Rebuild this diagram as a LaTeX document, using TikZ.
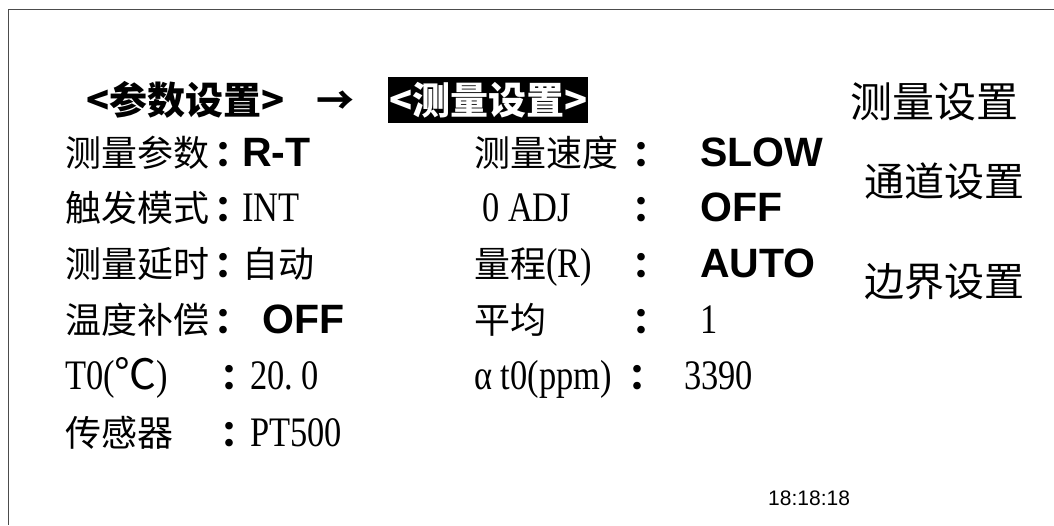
\documentclass[tikz,border=0pt]{standalone}
\usepackage{fontspec}
\newfontfamily\cjk{Noto Sans CJK SC}
\newfontfamily\lsans{Liberation Sans}
\newfontfamily\lserif[FakeStretch=0.82]{Liberation Serif}
\begin{document}
\begin{tikzpicture}[x=1pt,y=-1pt,
  every node/.style={inner sep=0pt,anchor=base west},
  cj/.style={font=\cjk\fontsize{36}{40}\selectfont},
  rc/.style={font=\cjk\fontsize{40}{44}\selectfont},
  hd/.style={font=\cjk\bfseries\fontsize{38}{40}\selectfont},
  bs/.style={font=\lsans\bfseries\fontsize{41}{44}\selectfont},
  sf/.style={font=\lserif\fontsize{42}{44}\selectfont},
  col/.style={font=\cjk\bfseries\fontsize{36}{40}\selectfont,anchor=base},
  frame/.style={draw=black!70,line width=1.5pt}]
\useasboundingbox (0,0) rectangle (1054,525);
\coordinate (tl) at (8.5,9.5);
\coordinate (tr) at (1054,9.5);
\coordinate (bl) at (8.5,525);
\draw[frame] (tr) -- (tl) -- (bl);
% header
\node[hd] (h1) at (86,114) {<参数设置>};
\node[hd] (arr) at (316,114) {→};
\node[fill=black,minimum width=200pt,minimum height=46pt,anchor=west,inner sep=0pt] (hbox) at (388,100) {};
\node[hd,text=white,anchor=base] (h2) at (hbox.center |- 0,114) {<测量设置>};
\node[font=\cjk\fontsize{42}{44}\selectfont] (m1) at (850,117) {测量设置};
\node[rc] (m2) at (864,196) {通道设置};
\node[rc] (m3) at (864,296) {边界设置};
% left column
\node[cj] (a1) at (65,166) {测量参数};
\node[col] (a1c) at (232,166) {：};
\node[bs] (a1v) at (242,166) {R-T};
\node[cj] (a2) at (65,221) {触发模式};
\node[col] (a2c) at (232,221) {：};
\node[sf] (a2v) at (242,221) {INT};
\node[cj] (a3) at (65,277) {测量延时};
\node[col] (a3c) at (232,277) {：};
\node[cj] (a3v) at (242,277) {自动};
\node[cj] (a4) at (65,333) {温度补偿};
\node[col] (a4c) at (232,333) {：};
\node[bs] (a4v) at (262,333) {OFF};
\node[sf] (a5) at (65,389) {T0({\cjk ℃})};
\node[col] (a5c) at (238,389) {：};
\node[sf] (a5v) at (250,389) {20.\kern8pt 0};
\node[cj] (a6) at (65,446) {传感器};
\node[col] (a6c) at (238,446) {：};
\node[sf] (a6v) at (250,446) {PT500};
% middle column
\node[cj] (b1) at (474,166) {测量速度};
\node[col] (b1c) at (650,166) {：};
\node[bs] (b1v) at (700,166) {SLOW};
\node[sf] (b2) at (482,221) {0 ADJ};
\node[col] (b2c) at (650,221) {：};
\node[bs] (b2v) at (700,221) {OFF};
\node[cj] (b3) at (474,277) {量程{\lserif\fontsize{42}{44}\selectfont(R)}};
\node[col] (b3c) at (650,277) {：};
\node[bs] (b3v) at (700,277) {AUTO};
\node[cj] (b4) at (474,333) {平均};
\node[col] (b4c) at (650,333) {：};
\node[sf] (b4v) at (700,333) {1};
\node[sf] (b5) at (474,389) {α t0(ppm)};
\node[col] (b5c) at (646,389) {：};
\node[sf] (b5v) at (684,389) {3390};
\node[font=\lsans\fontsize{21}{24}\selectfont] (tm) at (768,505) {18:18:18};
\end{tikzpicture}
\end{document}
